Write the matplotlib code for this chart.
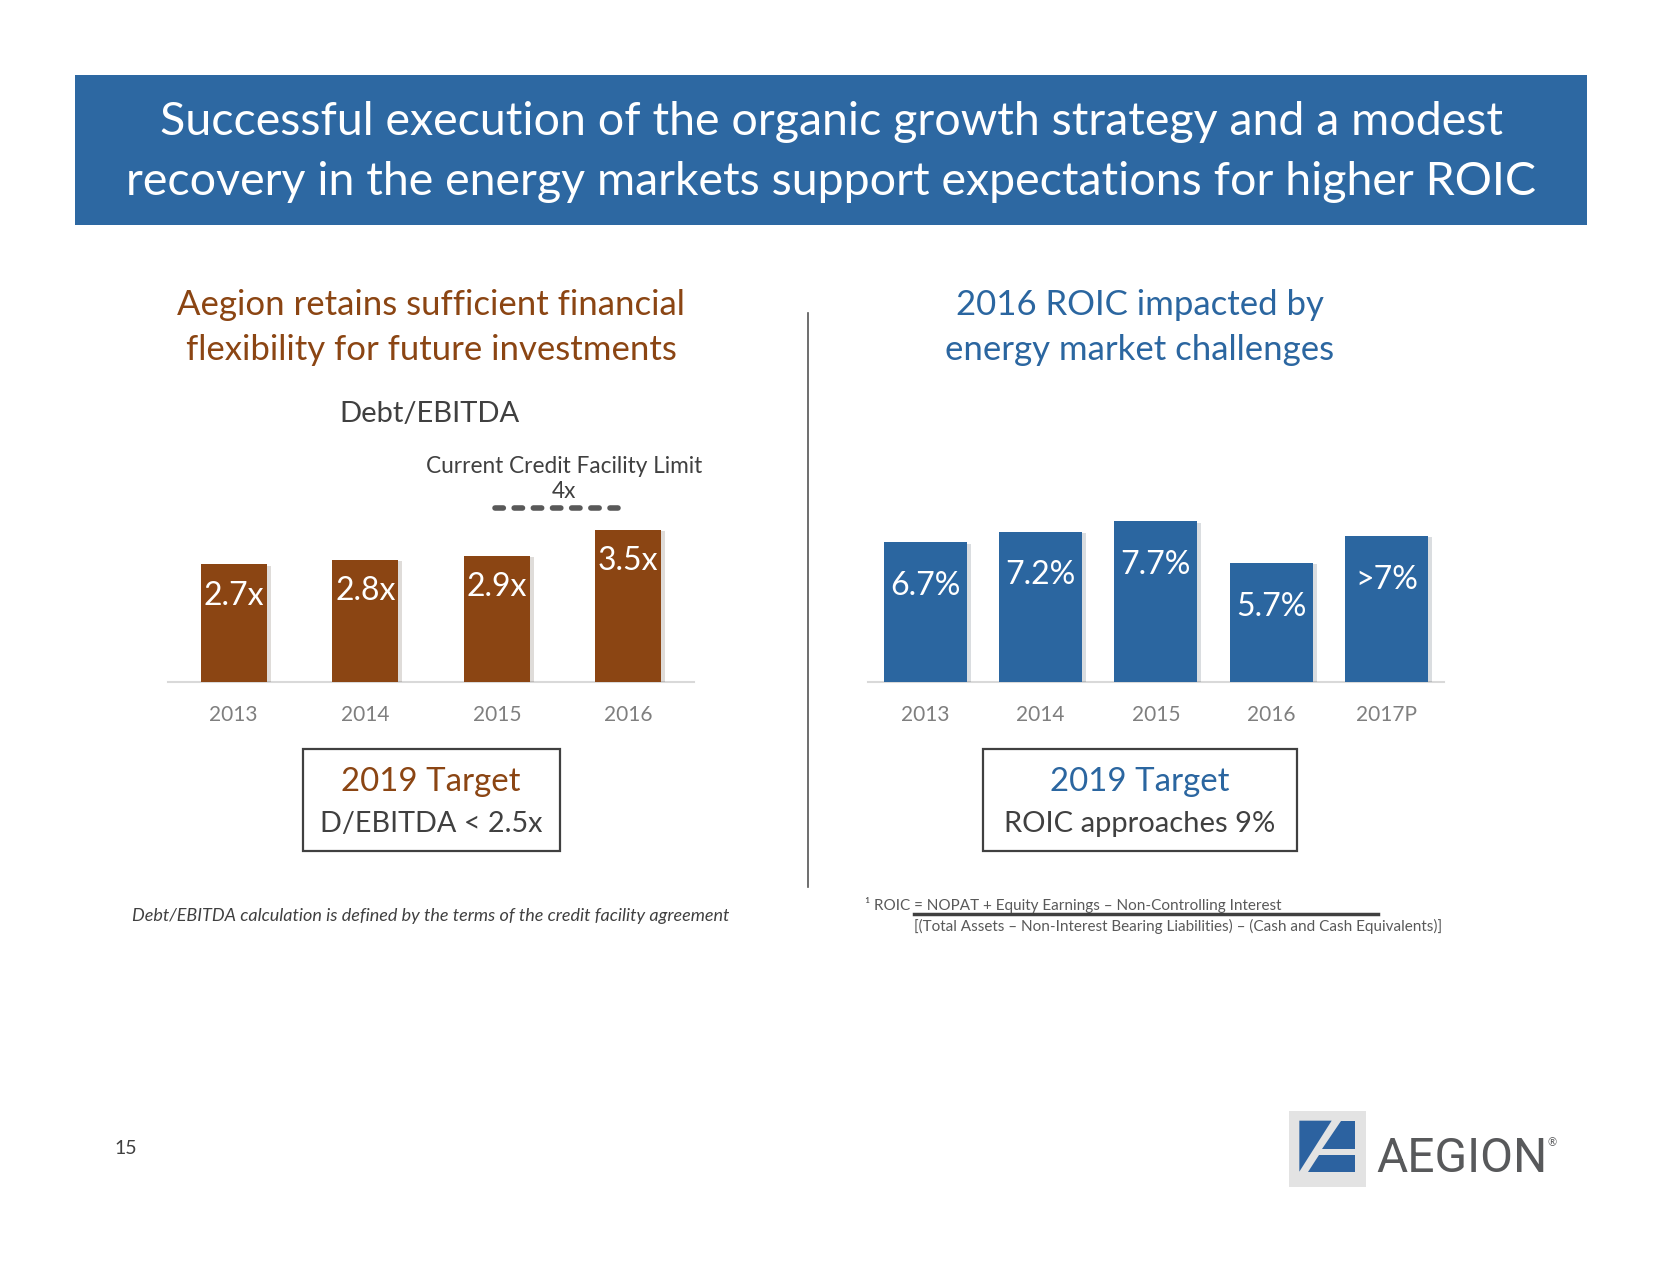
import matplotlib
matplotlib.use("Agg")
import matplotlib.pyplot as plt
from matplotlib.patches import Rectangle, Polygon
import matplotlib.patheffects as pe

# Datos
anios_deuda = ["2013", "2014", "2015", "2016"]
deuda_ebitda = [2.7, 2.8, 2.9, 3.5]
etiquetas_deuda = ["2.7x", "2.8x", "2.9x", "3.5x"]
limite_credito = 4.0

anios_roic = ["2013", "2014", "2015", "2016", "2017P"]
roic = [6.7, 7.2, 7.7, 5.7, 7.0]
etiquetas_roic = ["6.7%", "7.2%", "7.7%", "5.7%", ">7%"]

W, H = 1662, 1275
MARRON = "#8B4513"
AZUL = "#2B66A0"
GRIS = "#404040"
FUENTE = "Lato"

plt.rcParams['font.family'] = [FUENTE, 'DejaVu Sans']

fig = plt.figure(figsize=(W / 100, H / 100), dpi=100)


def px(x, y):
    return x / W, 1 - y / H


def texto(x, y, s, **kw):
    fx, fy = px(x, y)
    kw.setdefault("ha", "center")
    kw.setdefault("va", "center")
    fig.text(fx, fy, s, **kw)


def caja(x0, y0, x1, y1, **kw):
    fx, fy = px(x0, y1)
    fig.patches.append(Rectangle((fx, fy), (x1 - x0) / W, (y1 - y0) / H,
                                 transform=fig.transFigure, **kw))


def linea(xs, ys, **kw):
    fig.add_artist(plt.Line2D([x / W for x in xs], [1 - y / H for y in ys],
                              transform=fig.transFigure, **kw))


def estilo_ejes(ax, etiquetas):
    ax.set_xticks(range(len(etiquetas)))
    ax.set_xticklabels(etiquetas, color="#7F7F7F", fontsize=15)
    ax.tick_params(length=0, pad=17)
    ax.set_yticks([])
    for lado in ["top", "right", "left"]:
        ax.spines[lado].set_visible(False)
    ax.spines["bottom"].set_color("#D9D9D9")
    ax.spines["bottom"].set_linewidth(1.5)
    ax.patch.set_alpha(0)


# Banner del titulo
caja(75, 75, 1587, 225, facecolor="#2D68A2", edgecolor="none")
texto(831, 122, "Successful execution of the organic growth strategy and a modest",
      color="white", fontsize=33.5)
texto(831, 182, "recovery in the energy markets support expectations for higher ROIC",
      color="white", fontsize=33.5)

# Subtitulos
texto(431, 305, "Aegion retains sufficient financial", color=MARRON, fontsize=25)
texto(431, 350, "flexibility for future investments", color=MARRON, fontsize=25)
texto(1140, 305, "2016 ROIC impacted by", color=AZUL, fontsize=25)
texto(1140, 350, "energy market challenges", color=AZUL, fontsize=25)

# Separador
linea([808, 808], [313, 887], color="#555555", lw=1.2)

sombra = [pe.SimplePatchShadow(offset=(3, -1), alpha=0.15), pe.Normal()]

# Grafico izquierdo: Debt/EBITDA
ax1 = fig.add_axes([168 / W, 1 - 681.5 / H, 526 / W, 195.3 / H])
barras1 = ax1.bar(range(len(deuda_ebitda)), deuda_ebitda, width=0.5,
                  color=MARRON, zorder=3)
for b in barras1:
    b.set_path_effects(sombra)
ax1.set_xlim(-0.5, 3.5)
ax1.set_ylim(0, 4.5)
for i, (v, s) in enumerate(zip(deuda_ebitda, etiquetas_deuda)):
    ax1.text(i, v - 0.72, s, color="white", fontsize=23, ha="center", va="center",
             zorder=4)
ax1.hlines(limite_credito, 1.99, 2.92, color="#595959", lw=4,
           linestyles=(0, (1.5, 1.95)), capstyle="round")
estilo_ejes(ax1, anios_deuda)

texto(430, 414, "Debt/EBITDA", color=GRIS, fontsize=21)
texto(564, 467, "Current Credit Facility Limit", color=GRIS, fontsize=16.3)
texto(564, 492, "4x", color=GRIS, fontsize=16.3)

# Grafico derecho: ROIC
ax2 = fig.add_axes([867.6 / W, 1 - 681.5 / H, 576.4 / W, 166.4 / H])
barras2 = ax2.bar(range(len(roic)), roic, width=0.72, color=AZUL, zorder=3)
for b in barras2:
    b.set_path_effects(sombra)
ax2.set_xlim(-0.5, 4.5)
ax2.set_ylim(0, 8)
for i, (v, s) in enumerate(zip(roic, etiquetas_roic)):
    ax2.text(i, v - 2.1, s, color="white", fontsize=23, ha="center", va="center",
             zorder=4)
estilo_ejes(ax2, anios_roic)

# Cajas de objetivos 2019
caja(303, 749, 560, 851, facecolor="none", edgecolor=GRIS, lw=1.6)
texto(431, 782, "2019 Target", color=MARRON, fontsize=23.8)
texto(431, 824, "D/EBITDA < 2.5x", color=GRIS, fontsize=20.7)

caja(983, 749, 1297, 851, facecolor="none", edgecolor=GRIS, lw=1.6)
texto(1140, 782, "2019 Target", color=AZUL, fontsize=23.8)
texto(1140, 824, "ROIC approaches 9%", color=GRIS, fontsize=21)

# Notas al pie
texto(431, 916, "Debt/EBITDA calculation is defined by the terms of the credit facility agreement",
      color=GRIS, fontsize=13, style="italic")
texto(865, 905, "\u00b9 ROIC = NOPAT + Equity Earnings \u2013 Non-Controlling Interest",
      color="#595959", fontsize=11, ha="left")
linea([914, 1378], [914, 914], color=GRIS, lw=2.5)
texto(914, 926, "[(Total Assets \u2013 Non-Interest Bearing Liabilities) \u2013 (Cash and Cash Equivalents)]",
      color="#595959", fontsize=11, ha="left")

# Numero de pagina
texto(126, 1148, "15", color=GRIS, fontsize=14)

# Logo
caja(1289, 1111, 1366, 1187, facecolor="#E3E3E3", edgecolor="none")


def poligono(pts, color):
    fig.patches.append(Polygon([px(1270 + a / 3, 1090 + b / 3) for a, b in pts],
                               closed=True, transform=fig.transFigure,
                               facecolor=color, edgecolor="none"))


poligono([(88, 92), (185, 92), (88, 245)], "#2C62A0")
poligono([(212, 92), (255, 92), (255, 178), (157, 178)], "#2C62A0")
poligono([(147, 195), (255, 195), (255, 245), (115, 245)], "#2C62A0")
texto(1376, 1159, "AEGION", color="#58595B", fontsize=34.5, ha="left",
      family="Roboto")
texto(1548, 1143, "\u00ae", color="#58595B", fontsize=8, ha="left")

fig.savefig("out.png", dpi=100)
